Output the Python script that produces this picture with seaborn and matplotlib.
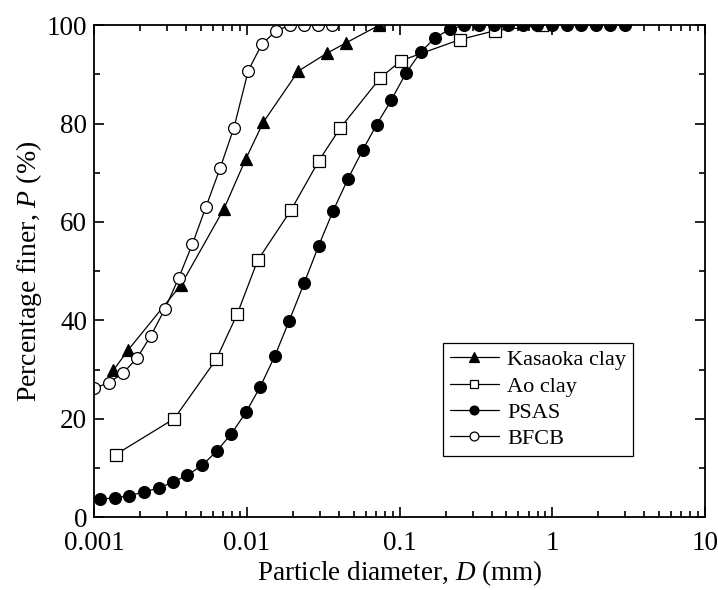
import numpy as np
import pandas as pd
import matplotlib
matplotlib.use("Agg")
import matplotlib.pyplot as plt
from matplotlib.ticker import LogLocator, MultipleLocator, FixedFormatter, FixedLocator, NullFormatter
import seaborn as sns

# Particle size distributions: diameter (mm) and percentage finer (%)
kasaoka_d = [0.00133, 0.00167, 0.0037, 0.00707, 0.00985, 0.0128, 0.0217, 0.0333, 0.0443, 0.0732]
kasaoka_p = [29.8, 34.0, 47.2, 62.7, 72.9, 80.3, 90.7, 94.3, 96.4, 100.0]

ao_d = [0.00138, 0.00334, 0.0063, 0.00864, 0.01175, 0.0195, 0.0296, 0.0408, 0.0746, 0.102, 0.248, 0.42, 0.859]
ao_p = [12.7, 20.0, 32.1, 41.3, 52.2, 62.5, 72.5, 79.1, 89.3, 92.8, 97.1, 98.9, 100.0]

psas_d = [0.00109, 0.00136, 0.00169, 0.00211, 0.00264, 0.00329, 0.00406, 0.00509, 0.00633,
          0.00789, 0.00985, 0.01222, 0.01524, 0.0189, 0.0237, 0.0295, 0.0367, 0.0459, 0.0572,
          0.0707, 0.0881, 0.110, 0.137, 0.171, 0.213, 0.265, 0.330, 0.412, 0.512, 0.638,
          0.796, 0.993, 1.24, 1.54, 1.92, 2.38, 2.98]
psas_p = [3.6, 3.9, 4.3, 5.1, 5.9, 7.1, 8.5, 10.5, 13.4,
          16.9, 21.3, 26.5, 32.8, 39.9, 47.6, 55.2, 62.3, 68.8, 74.6,
          79.8, 84.8, 90.3, 94.5, 97.5, 99.2, 100.0, 100.0, 100.0, 100.0, 100.0,
          100.0, 100.0, 100.0, 100.0, 100.0, 100.0, 100.0]

bfcb_d = [0.001, 0.001243, 0.001535, 0.001904, 0.00234, 0.0029, 0.00357, 0.00439, 0.00539,
          0.00668, 0.00822, 0.0102, 0.01253, 0.0156, 0.0191, 0.0236, 0.0292, 0.0360]
bfcb_p = [26.2, 27.3, 29.2, 32.3, 36.8, 42.3, 48.6, 55.5, 63.1,
          71.0, 79.2, 90.8, 96.2, 98.9, 100.0, 100.0, 100.0, 100.0]

x_ticks = [0.001, 0.01, 0.1, 1, 10]
x_tick_labels = ["0.001", "0.01", "0.1", "1", "10"]
y_ticks = [0, 20, 40, 60, 80, 100]

sns.set_theme(style="ticks")
plt.rcParams["font.family"] = ["Liberation Serif", "DejaVu Serif"]
plt.rcParams["mathtext.fontset"] = "custom"
plt.rcParams["mathtext.it"] = "Liberation Serif:italic"
plt.rcParams["mathtext.rm"] = "Liberation Serif"

fig = plt.figure(figsize=(7.18, 5.90), dpi=100)
ax = fig.add_axes([0.1313, 0.1237, 0.8507, 0.8334])

series = [
    ("Kasaoka clay", kasaoka_d, kasaoka_p, "^", "black", 9.0),
    ("Ao clay", ao_d, ao_p, "s", "white", 8.0),
    ("PSAS", psas_d, psas_p, "o", "black", 8.5),
    ("BFCB", bfcb_d, bfcb_p, "o", "white", 8.5),
]

for name, d, p, mk, fc, ms in series:
    df = pd.DataFrame({"d": d, "p": p})
    sns.lineplot(data=df, x="d", y="p", ax=ax, estimator=None, sort=False,
                 color="black", linewidth=0.9, marker=mk, markersize=ms,
                 markerfacecolor=fc, markeredgecolor="black", markeredgewidth=0.9,
                 label=name)

ax.set_xscale("log")
ax.set_xlim(0.001, 10)
ax.set_ylim(0, 100)

ax.xaxis.set_major_locator(FixedLocator(x_ticks))
ax.xaxis.set_major_formatter(FixedFormatter(x_tick_labels))
ax.xaxis.set_minor_locator(LogLocator(base=10, subs=np.arange(2, 10)))
ax.xaxis.set_minor_formatter(NullFormatter())
ax.set_yticks(y_ticks)
ax.yaxis.set_minor_locator(MultipleLocator(10))

ax.tick_params(which="both", direction="in", top=True, right=True, colors="black",
               labelsize=19.5, width=1.2)
ax.tick_params(which="major", length=7)
ax.tick_params(which="minor", length=4)
ax.tick_params(axis="x", which="major", pad=10)
ax.tick_params(axis="y", which="major", pad=5)
for s in ax.spines.values():
    s.set_color("black")
    s.set_linewidth(1.3)

ax.set_xlabel("Particle diameter, $\\mathit{D}$ (mm)", fontsize=19.5, color="black", labelpad=2)
ax.set_ylabel("Percentage finer, $\\mathit{P}$ (%)", fontsize=20, color="black", labelpad=2)

leg = ax.legend(loc="upper left", bbox_to_anchor=(0.571, 0.354), fontsize=16,
                frameon=True, fancybox=False, edgecolor="black", framealpha=1,
                handlelength=2.2, handletextpad=0.4, borderpad=0.3,
                labelspacing=0.26, borderaxespad=0, markerscale=0.75)
leg.get_frame().set_linewidth(0.9)
for t in leg.get_texts():
    t.set_color("black")

fig.savefig("out.png", dpi=100)
